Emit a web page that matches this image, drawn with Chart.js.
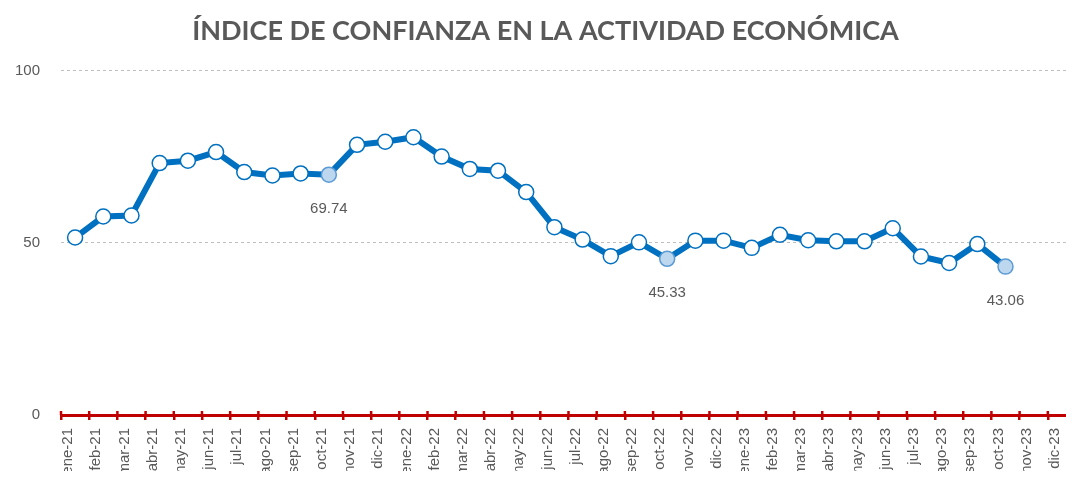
<!DOCTYPE html>
<html>
<head>
<meta charset="utf-8">
<script src="https://cdn.jsdelivr.net/npm/chart.js@4.4.1/dist/chart.umd.min.js"></script>
<style>
  html, body { margin: 0; padding: 0; background: #fff; overflow: hidden; }
  #wrap { width: 1130px; height: 477px; }
</style>
</head>
<body>
<div id="wrap"><canvas id="myChart" width="1130" height="477"></canvas></div>
<script>
// months shown on the axis
var months = ["ene-21", "feb-21", "mar-21", "abr-21", "may-21", "jun-21", "jul-21", "ago-21", "sep-21", "oct-21", "nov-21", "dic-21",
              "ene-22", "feb-22", "mar-22", "abr-22", "may-22", "jun-22", "jul-22", "ago-22", "sep-22", "oct-22", "nov-22", "dic-22",
              "ene-23", "feb-23", "mar-23", "abr-23", "may-23", "jun-23", "jul-23", "ago-23", "sep-23", "oct-23", "nov-23", "dic-23"];

// index values (labelled ones exact)
var indice = [51.5, 57.6, 57.9, 73.1, 73.8, 76.3, 70.5, 69.5, 70.1, 69.74, 78.4, 79.3,
              80.6, 75.0, 71.4, 70.9, 64.7, 54.5, 50.9, 46.1, 50.1, 45.33, 50.6, 50.6,
              48.5, 52.3, 50.7, 50.4, 50.4, 54.2, 46.0, 44.1, 49.6, 43.06, null, null];

// months whose value is written under the point
var labeledMonths = ["oct-21", "oct-22", "oct-23"];

var yTicks = [0, 50, 100];

var blue = "#0070C0";
var grey = "#595959";
var red = "#C00000";

var pointFill = months.map(function (m) { return labeledMonths.indexOf(m) >= 0 ? "#BDD7EE" : "#ffffff"; });
var pointEdge = months.map(function (m) { return labeledMonths.indexOf(m) >= 0 ? "#5B9BD5" : blue; });

// value labels under the highlighted points
var valueLabels = {
    id: "valueLabels",
    afterDatasetsDraw: function (chart) {
        var ctx = chart.ctx;
        var meta = chart.getDatasetMeta(0);
        ctx.save();
        ctx.font = "15px 'Liberation Sans'";
        ctx.fillStyle = grey;
        ctx.textAlign = "center";
        ctx.textBaseline = "middle";
        months.forEach(function (m, i) {
            if (labeledMonths.indexOf(m) < 0 || indice[i] == null) return;
            var pt = meta.data[i];
            ctx.fillText(indice[i].toFixed(2), pt.x, pt.y + 34);
        });
        ctx.restore();
    }
};

// small red ticks poking above the axis line
var axisTicksUp = {
    id: "axisTicksUp",
    afterDraw: function (chart) {
        var xs = chart.scales.x;
        var ctx = chart.ctx;
        var step = xs.width / months.length;
        ctx.save();
        ctx.strokeStyle = red;
        ctx.lineWidth = 2.5;
        for (var i = 0; i <= months.length; i++) {
            var x = xs.left + i * step;
            ctx.beginPath();
            ctx.moveTo(x, xs.top - 4);
            ctx.lineTo(x, xs.top);
            ctx.stroke();
        }
        ctx.restore();
    }
};

var ctx = document.getElementById("myChart").getContext("2d");

myChart = new Chart(ctx, {
    type: "line",
    data: {
        labels: months,
        datasets: [
            {
                label: "Índice",
                data: indice,
                borderColor: blue,
                borderWidth: 6,
                tension: 0,
                pointRadius: 7.5,
                pointHoverRadius: 7.5,
                pointBackgroundColor: pointFill,
                pointBorderColor: pointEdge,
                pointBorderWidth: 1.5
            }
        ]
    },
    options: {
        responsive: false,
        animation: false,
        devicePixelRatio: 1,
        layout: {
            padding: { left: 15, right: 54, top: 0, bottom: 6 }
        },
        plugins: {
            legend: { display: false },
            tooltip: { enabled: false },
            title: {
                display: true,
                text: "ÍNDICE DE CONFIANZA EN LA ACTIVIDAD ECONÓMICA",
                color: grey,
                font: { family: "Lato", size: 27, weight: "bold" },
                padding: { top: 15, bottom: 23 }
            }
        },
        scales: {
            x: {
                offset: true,
                afterFit: function (axis) { axis.height = 56; },
                grid: {
                    offset: true,
                    drawOnChartArea: false,
                    drawTicks: true,
                    tickLength: 5,
                    color: red,
                    lineWidth: 2.5
                },
                border: { display: true, color: red, width: 3 },
                ticks: {
                    autoSkip: false,
                    maxRotation: 90,
                    minRotation: 90,
                    labelOffset: -7,
                    padding: 8,
                    color: grey,
                    font: { family: "Liberation Sans", size: 15 }
                }
            },
            y: {
                min: 0,
                max: 100,
                afterBuildTicks: function (axis) {
                    axis.ticks = yTicks.map(function (v) { return { value: v }; });
                },
                afterFit: function (axis) { axis.width = 46; },
                grid: {
                    drawTicks: false,
                    color: function (c) { return c.tick && c.tick.value === 0 ? "rgba(0,0,0,0)" : "#BFBFBF"; },
                    lineWidth: 1
                },
                border: { display: false, dash: [3, 3] },
                ticks: {
                    padding: 21,
                    color: grey,
                    font: { family: "Liberation Sans", size: 15 }
                }
            }
        }
    },
    plugins: [valueLabels, axisTicksUp]
});
</script>
</body>
</html>
